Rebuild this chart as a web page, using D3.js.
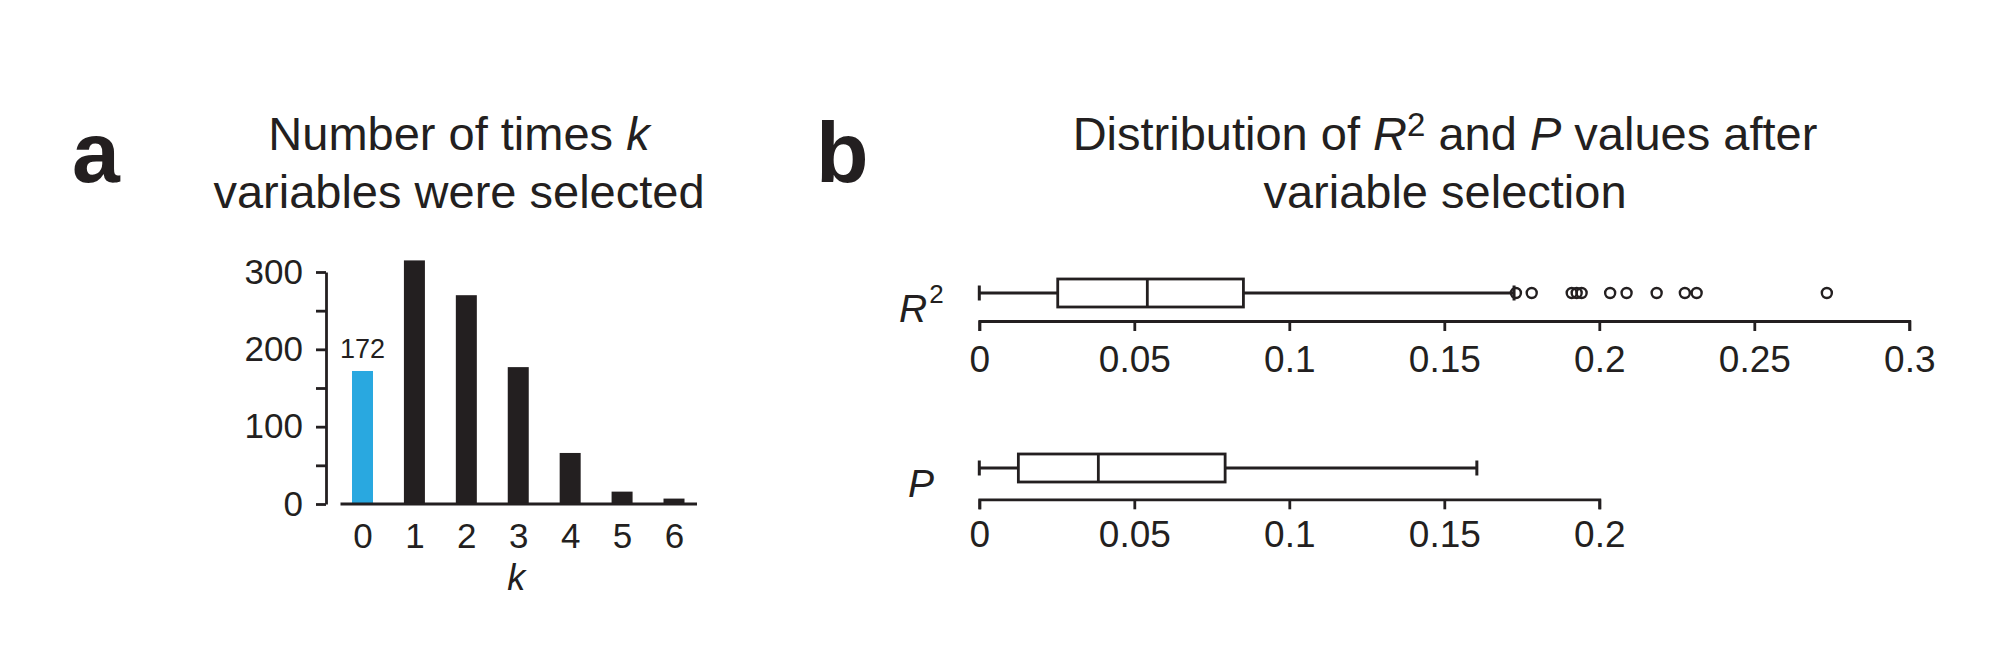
<!DOCTYPE html>
<html>
<head>
<meta charset="utf-8">
<script src="https://cdn.jsdelivr.net/npm/d3@7"></script>
<style>
  body { margin: 0; background: #fff; }
  text { font-family: "Liberation Sans", Arial, sans-serif; fill: #231f20; }
</style>
</head>
<body>
<div id="chart"></div>
<script>
// Panel a: number of times k variables were selected
const kValues = [0, 1, 2, 3, 4, 5, 6];
const kCounts = [172, 315, 270, 177, 66, 16, 7];
const yTicks = [0, 50, 100, 150, 200, 250, 300];

// Panel b: box plot summaries [min, q1, median, q3, max]
const r2Stats = [0, 0.0253, 0.0542, 0.0852, 0.1725];
const r2Outliers = [0.1731, 0.1782, 0.1911, 0.1927, 0.1943, 0.2035, 0.2088, 0.2185, 0.2276, 0.2314, 0.2734];
const r2Ticks = [0, 0.05, 0.1, 0.15, 0.2, 0.25, 0.3];
const pStats = [0, 0.0126, 0.0384, 0.0793, 0.1605];
const pTicks = [0, 0.05, 0.1, 0.15, 0.2];

const W = 2000, H = 656;
const ink = '#231f20';
const lineW = 2.8;

const svg = d3.select('#chart')
  .append('svg')
  .attr('width', W)
  .attr('height', H);

// ---------- panel a ----------
const a = svg.append('g');

// panel letter
a.append('text')
  .attr('x', 72).attr('y', 182)
  .style('font-size', '86px').style('font-weight', 'bold')
  .text('a');

// title (two lines, k in italics)
const titleA = a.append('text')
  .attr('text-anchor', 'middle')
  .style('font-size', '47px');
const tA1 = titleA.append('tspan').attr('x', 459).attr('y', 150);
tA1.append('tspan').text('Number of times ');
tA1.append('tspan').style('font-style', 'italic').text('k');
titleA.append('tspan').attr('x', 459).attr('y', 208).text('variables were selected');

// scales
const yScale = d3.scaleLinear().domain([0, 300]).range([504, 272]);
const xScale = d3.scalePoint().domain(kValues).range([362.5, 674]);
const barWidth = 21;

// y axis with minor ticks unlabelled
const yAxis = d3.axisLeft(yScale)
  .tickValues(yTicks)
  .tickFormat(d => d % 100 === 0 ? d : '')
  .tickSize(10)
  .tickSizeOuter(0)
  .tickPadding(13);
const gy = a.append('g')
  .attr('transform', 'translate(326, 0)')
  .call(yAxis);
gy.selectAll('text').style('font-size', '35px').attr('fill', ink).style('font-family', null);
gy.selectAll('path, line').attr('stroke', ink).attr('stroke-width', lineW);

// bars
a.selectAll('rect.bar')
  .data(kValues)
  .enter()
  .append('rect')
  .attr('class', 'bar')
  .attr('x', d => xScale(d) - barWidth / 2)
  .attr('y', (d, i) => yScale(kCounts[i]))
  .attr('width', barWidth)
  .attr('height', (d, i) => yScale(0) - yScale(kCounts[i]))
  .attr('fill', d => d === 0 ? '#29a8e0' : ink);

// baseline, detached from the y axis
a.append('line')
  .attr('x1', xScale(0) - 22).attr('x2', xScale(6) + 23)
  .attr('y1', yScale(0)).attr('y2', yScale(0))
  .attr('stroke', ink).attr('stroke-width', lineW);

// x labels
const xAxis = d3.axisBottom(xScale).tickSize(0).tickPadding(19);
const gx = a.append('g')
  .attr('transform', `translate(0, ${yScale(0)})`)
  .call(xAxis);
gx.select('.domain').remove();
gx.selectAll('text').style('font-size', '35px').attr('fill', ink).style('font-family', null);

a.append('text')
  .attr('x', xScale(3) - 2).attr('y', 590)
  .attr('text-anchor', 'middle')
  .style('font-size', '36px').style('font-style', 'italic')
  .text('k');

// value label over the blue bar
a.append('text')
  .attr('x', xScale(0)).attr('y', yScale(kCounts[0]) - 13)
  .attr('text-anchor', 'middle')
  .style('font-size', '27px')
  .attr('fill', '#333')
  .text(kCounts[0]);

// ---------- panel b ----------
const b = svg.append('g');

b.append('text')
  .attr('x', 816).attr('y', 182)
  .style('font-size', '86px').style('font-weight', 'bold')
  .text('b');

const titleB = b.append('text')
  .attr('text-anchor', 'middle')
  .style('font-size', '47px');
const tB1 = titleB.append('tspan').attr('x', 1445).attr('y', 150);
tB1.append('tspan').text('Distribution of ');
tB1.append('tspan').style('font-style', 'italic').text('R');
tB1.append('tspan').attr('dy', -14).style('font-size', '33px').text('2');
tB1.append('tspan').attr('dy', 14).text(' and ');
tB1.append('tspan').style('font-style', 'italic').text('P');
tB1.append('tspan').text(' values after');
titleB.append('tspan').attr('x', 1445).attr('y', 208).text('variable selection');

// one horizontal box plot with its own axis
function boxPlot(stats, outliers, ticks, axisY, boxY, pad) {
  const x = d3.scaleLinear().domain([0, ticks[ticks.length - 1]]).range([979.3, 979.3 + ticks[ticks.length - 1] * 3100]);
  const g = b.append('g');

  const axis = d3.axisBottom(x)
    .tickValues(ticks)
    .tickFormat(d => +d.toFixed(2))
    .tickSize(10)
    .tickPadding(pad);
  const ga = g.append('g')
    .attr('transform', `translate(0, ${axisY})`)
    .call(axis);
  ga.selectAll('text').style('font-size', '37px').attr('fill', ink).style('font-family', null);
  ga.selectAll('path, line').attr('stroke', ink).attr('stroke-width', lineW);

  const [mn, q1, med, q3, mx] = stats;
  const half = 14, cap = 7.5;

  // whiskers
  g.append('line')
    .attr('x1', x(mn)).attr('x2', x(q1))
    .attr('y1', boxY).attr('y2', boxY)
    .attr('stroke', ink).attr('stroke-width', lineW);
  g.append('line')
    .attr('x1', x(q3)).attr('x2', x(mx))
    .attr('y1', boxY).attr('y2', boxY)
    .attr('stroke', ink).attr('stroke-width', lineW);
  // caps
  g.selectAll('line.cap')
    .data([mn, mx])
    .enter()
    .append('line')
    .attr('class', 'cap')
    .attr('x1', d => x(d)).attr('x2', d => x(d))
    .attr('y1', boxY - cap).attr('y2', boxY + cap)
    .attr('stroke', ink).attr('stroke-width', 3);
  // box
  g.append('rect')
    .attr('x', x(q1)).attr('y', boxY - half)
    .attr('width', x(q3) - x(q1)).attr('height', half * 2)
    .attr('fill', '#fff')
    .attr('stroke', ink).attr('stroke-width', lineW);
  // median
  g.append('line')
    .attr('x1', x(med)).attr('x2', x(med))
    .attr('y1', boxY - half).attr('y2', boxY + half)
    .attr('stroke', ink).attr('stroke-width', lineW);
  // outliers
  g.selectAll('circle')
    .data(outliers)
    .enter()
    .append('circle')
    .attr('cx', d => x(d)).attr('cy', boxY)
    .attr('r', 5)
    .attr('fill', 'none')
    .attr('stroke', ink).attr('stroke-width', 2.4);
}

boxPlot(r2Stats, r2Outliers, r2Ticks, 321, 293, 15);
boxPlot(pStats, [], pTicks, 499.3, 468, 11);

// row labels
const r2Label = b.append('text')
  .attr('x', 899).attr('y', 322)
  .style('font-size', '39px');
r2Label.append('tspan').style('font-style', 'italic').text('R');
r2Label.append('tspan').attr('dx', 2).attr('dy', -19).style('font-size', '26px').text('2');

b.append('text')
  .attr('x', 908).attr('y', 497)
  .style('font-size', '39px').style('font-style', 'italic')
  .text('P');
</script>
</body>
</html>
